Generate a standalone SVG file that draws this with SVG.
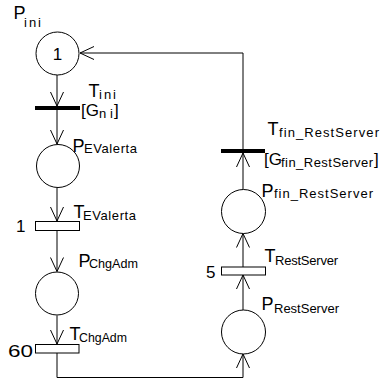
<svg xmlns="http://www.w3.org/2000/svg" width="382" height="381" viewBox="0 0 382 381">
<style>
text{font-family:"Liberation Sans",Arial,sans-serif;fill:#000}
.m{font-size:18px}
.g{font-size:17px}
.s{font-size:13px}
.n{font-size:17px}
.pl{fill:#fff;stroke:#000;stroke-width:1}
.bar{fill:#000}
.tr{fill:#fff;stroke:#000;stroke-width:1}
.c{fill:none;stroke:#000;stroke-width:1}
</style>
<defs>
<marker id="a" markerUnits="userSpaceOnUse" markerWidth="16" markerHeight="14" viewBox="0 0 16 14" refX="15" refY="7" orient="auto">
<path d="M1,0.5 L15,7 L1,13.5" fill="none" stroke="#000" stroke-width="1"/>
</marker>
</defs>
<rect width="382" height="381" fill="#fff"/>
<g id="connectors">
<polyline class="c" points="243,151 243,53 80,53" marker-end="url(#a)"/>
<line class="c" x1="57" y1="75" x2="57" y2="106" marker-end="url(#a)"/>
<line class="c" x1="57" y1="110" x2="57" y2="144" marker-end="url(#a)"/>
<line class="c" x1="57" y1="188" x2="57" y2="221" marker-end="url(#a)"/>
<line class="c" x1="57" y1="231" x2="57" y2="271.5" marker-end="url(#a)"/>
<line class="c" x1="57" y1="315.5" x2="57" y2="344" marker-end="url(#a)"/>
<polyline class="c" points="57,353 57,377.5 243,377.5 243,354" marker-end="url(#a)"/>
<line class="c" x1="243" y1="310" x2="243" y2="275" marker-end="url(#a)"/>
<line class="c" x1="243" y1="267" x2="243" y2="233.5" marker-end="url(#a)"/>
<line class="c" x1="243" y1="189.5" x2="243" y2="153" marker-end="url(#a)"/>
</g>
<g id="P_ini">
<circle class="pl" cx="57.5" cy="53.5" r="21.5"/>
<text class="n" x="57.5" y="60" text-anchor="middle">1</text>
<text class="m" x="13.5" y="19">P</text>
<text class="s" x="24" y="27" textLength="17" lengthAdjust="spacing">ini</text>
</g>
<g id="T_ini">
<rect class="bar" x="35" y="106" width="45" height="4"/>
<text class="m" x="88.5" y="97">T</text>
<text class="s" x="99" y="99" textLength="17" lengthAdjust="spacing">ini</text>
<text class="g" x="81" y="116">[G</text>
<text class="s" x="99" y="118" textLength="14" lengthAdjust="spacing">ni</text>
<text class="g" x="114" y="116">]</text>
</g>
<g id="P_EValerta">
<circle class="pl" cx="58" cy="166" r="21.5"/>
<text class="m" x="72.5" y="152">P</text>
<text class="s" x="84" y="153" textLength="53" lengthAdjust="spacing">EValerta</text>
</g>
<g id="T_EValerta">
<rect class="tr" x="35.5" y="221.5" width="44" height="9"/>
<text class="m" x="73.5" y="218">T</text>
<text class="s" x="83" y="220" textLength="53" lengthAdjust="spacing">EValerta</text>
<text class="n" x="16" y="232">1</text>
</g>
<g id="P_ChgAdm">
<circle class="pl" cx="57" cy="293.5" r="21.5"/>
<text class="m" x="78.5" y="267">P</text>
<text class="s" x="89" y="268" textLength="49" lengthAdjust="spacingAndGlyphs">ChgAdm</text>
</g>
<g id="T_ChgAdm">
<rect class="tr" x="35.5" y="344.5" width="43.5" height="8.5"/>
<text class="m" x="69.5" y="340">T</text>
<text class="s" x="79" y="342" textLength="48" lengthAdjust="spacingAndGlyphs">ChgAdm</text>
<text class="n" x="8" y="357" textLength="25" lengthAdjust="spacingAndGlyphs">60</text>
</g>
<g id="P_RestServer">
<circle class="pl" cx="243.5" cy="332" r="22"/>
<text class="m" x="261.5" y="310">P</text>
<text class="s" x="274" y="313" textLength="65" lengthAdjust="spacing">RestServer</text>
</g>
<g id="T_RestServer">
<rect class="tr" x="221.5" y="267" width="44" height="8"/>
<text class="m" x="264.5" y="262">T</text>
<text class="s" x="275" y="265" textLength="63" lengthAdjust="spacing">RestServer</text>
<text class="n" x="206" y="278">5</text>
</g>
<g id="P_fin_RestServer">
<circle class="pl" cx="243.5" cy="211.5" r="22"/>
<text class="m" x="261.5" y="197">P</text>
<text class="s" x="274" y="198" textLength="99" lengthAdjust="spacing">fin_RestServer</text>
</g>
<g id="T_fin_RestServer">
<rect class="bar" x="221" y="149" width="44" height="4"/>
<text class="m" x="267.5" y="135">T</text>
<text class="s" x="279" y="137" textLength="100" lengthAdjust="spacing">fin_RestServer</text>
<text class="g" x="264" y="165">[G</text>
<text class="s" x="281" y="167" textLength="92" lengthAdjust="spacing">fin_RestServer</text>
<text class="g" x="374" y="165">]</text>
</g>
</svg>
